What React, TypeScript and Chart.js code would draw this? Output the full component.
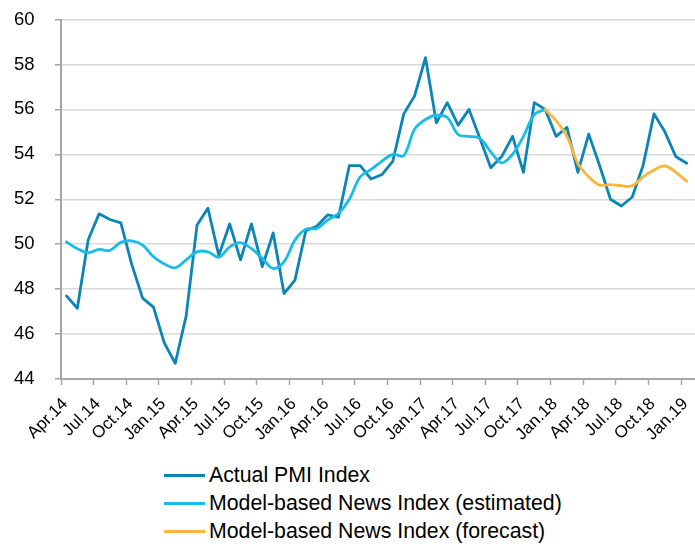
import React, { useEffect, useRef } from "react";
import { Chart, registerables } from "chart.js";

Chart.register(...registerables);

// Monthly categories (Apr.14 .. Jan.19)
const months: string[] = [
  "Apr.14", "May.14", "Jun.14", "Jul.14", "Aug.14", "Sep.14", "Oct.14", "Nov.14", "Dec.14",
  "Jan.15", "Feb.15", "Mar.15", "Apr.15", "May.15", "Jun.15", "Jul.15", "Aug.15", "Sep.15", "Oct.15", "Nov.15", "Dec.15",
  "Jan.16", "Feb.16", "Mar.16", "Apr.16", "May.16", "Jun.16", "Jul.16", "Aug.16", "Sep.16", "Oct.16", "Nov.16", "Dec.16",
  "Jan.17", "Feb.17", "Mar.17", "Apr.17", "May.17", "Jun.17", "Jul.17", "Aug.17", "Sep.17", "Oct.17", "Nov.17", "Dec.17",
  "Jan.18", "Feb.18", "Mar.18", "Apr.18", "May.18", "Jun.18", "Jul.18", "Aug.18", "Sep.18", "Oct.18", "Nov.18", "Dec.18",
  "Jan.19",
];

// Quarterly tick labels
const tickLabels: string[] = [
  "Apr.14", "Jul.14", "Oct.14",
  "Jan.15", "Apr.15", "Jul.15", "Oct.15",
  "Jan.16", "Apr.16", "Jul.16", "Oct.16",
  "Jan.17", "Apr.17", "Jul.17", "Oct.17",
  "Jan.18", "Apr.18", "Jul.18", "Oct.18",
  "Jan.19",
];

const actualPMI: (number | null)[] = [
  47.7, 47.15, 50.2, 51.35, 51.1, 50.95, 49.1, 47.6, 47.2, 45.6,
  44.7, 46.8, 50.85, 51.6, 49.5, 50.9, 49.3, 50.9, 49.0, 50.5,
  47.8, 48.4, 50.6, 50.8, 51.3, 51.2, 53.5, 53.5, 52.9, 53.1,
  53.7, 55.8, 56.6, 58.3, 55.4, 56.3, 55.3, 56.0, 54.7, 53.4,
  53.9, 54.8, 53.2, 56.3, 56.0, 54.8, 55.2, 53.2, 54.9, 53.5,
  52.0, 51.7, 52.1, 53.5, 55.8, 55.0, 53.9, 53.6,
];

const newsEstimated: (number | null)[] = [
  50.1, 49.8, 49.62, 49.77, 49.72, 50.08, 50.15, 49.96, 49.44, 49.12,
  48.95, 49.3, 49.66, 49.66, 49.42, 49.88, 50.07, 49.8, 49.37, 48.92,
  49.22, 50.18, 50.66, 50.7, 51.07, 51.37, 52.0, 53.0, 53.33, 53.7,
  54.0, 53.94, 55.12, 55.55, 55.74, 55.64, 54.88, 54.8, 54.71, 54.11,
  53.62, 54.0, 54.8, 55.77, 56.0, null, null, null, null, null,
  null, null, null, null, null, null, null, null,
];

const newsForecast: (number | null)[] = [
  null, null, null, null, null, null, null, null, null, null,
  null, null, null, null, null, null, null, null, null, null,
  null, null, null, null, null, null, null, null, null, null,
  null, null, null, null, null, null, null, null, null, null,
  null, null, null, null, 56.0, 55.5, 54.8, 53.6, 53.0, 52.63,
  52.65, 52.6, 52.6, 53.0, 53.3, 53.48, 53.2, 52.8,
];

const seriesNames: string[] = [
  "Actual PMI Index",
  "Model-based News Index (estimated)",
  "Model-based News Index (forecast)",
];
const seriesColors: string[] = ["#0a85b6", "#17bde6", "#fdb53d"];

const yMin = 44;
const yMax = 60;
const yStep = 2;

const FONT = "'Liberation Sans', Arial, Helvetica, sans-serif";

function toPoints(values: (number | null)[]) {
  const pts: { x: number; y: number }[] = [];
  values.forEach((v, i) => {
    if (v !== null && v !== undefined) pts.push({ x: i + 0.5, y: v });
  });
  return pts;
}

// Draws the rotated quarterly labels of the x scale at its own tick pixels
const xLabelPlugin = {
  id: "rotatedXLabels",
  afterDraw(chart: any) {
    const scale = chart.scales.x;
    const ctx = chart.ctx;
    ctx.save();
    ctx.font = `17px ${FONT}`;
    ctx.fillStyle = "#000";
    ctx.textAlign = "right";
    ctx.textBaseline = "alphabetic";
    scale.ticks.forEach((t: any) => {
      const label = tickLabels[Math.round(t.value / 3)];
      if (!label) return;
      const px = scale.getPixelForValue(t.value);
      ctx.save();
      ctx.translate(px + 7.5, scale.top + 25.6);
      ctx.rotate(-Math.PI / 4);
      ctx.fillText(label, 0, 0);
      ctx.restore();
    });
    ctx.restore();
  },
};

export default function App() {
  const canvasRef = useRef<HTMLCanvasElement | null>(null);

  useEffect(() => {
    if (!canvasRef.current) return;
    const allSeries = [actualPMI, newsEstimated, newsForecast];
    const chart = new Chart(canvasRef.current, {
      type: "line",
      data: {
        datasets: allSeries.map((vals, k) => ({
          label: seriesNames[k],
          data: toPoints(vals),
          borderColor: seriesColors[k],
          backgroundColor: seriesColors[k],
          borderWidth: 2.8,
          pointRadius: 0,
          pointHoverRadius: 0,
          tension: k === 0 ? 0 : 0.35,
          borderJoinStyle: "round" as const,
          borderCapStyle: "round" as const,
          fill: false,
          order: 3 - k,
        })),
      },
      plugins: [xLabelPlugin],
      options: {
        responsive: false,
        animation: false,
        events: [],
        layout: { padding: { top: 19.5, right: 11.6, bottom: 0, left: 14 } },
        plugins: {
          legend: { display: false },
          tooltip: { enabled: false },
        },
        scales: {
          x: {
            type: "linear",
            min: 0,
            max: 59.5,
            afterBuildTicks: (scale: any) => {
              scale.ticks = scale.ticks.filter(
                (t: any) => t.value % 3 === 0 && t.value <= 57
              );
            },
            afterFit: (scale: any) => {
              scale.height = 81;
            },
            grid: {
              drawOnChartArea: false,
              drawTicks: true,
              tickLength: 6,
              tickColor: "#a6a6a6",
              tickWidth: 1.5,
            },
            border: { display: true, color: "#a6a6a6", width: 2 },
            ticks: {
              display: false,
              stepSize: 3,
              autoSkip: false,
              includeBounds: false,
            },
          },
          y: {
            type: "linear",
            min: yMin,
            max: yMax,
            afterFit: (scale: any) => {
              scale.width = 47;
            },
            grid: {
              color: "#d9d9d9",
              lineWidth: 1.5,
              tickLength: 6,
              tickColor: "#a6a6a6",
              tickWidth: 1.5,
            },
            border: { display: true, color: "#a6a6a6", width: 2 },
            ticks: {
              stepSize: yStep,
              padding: 0,
              crossAlign: "far",
              color: "#000",
              font: { family: FONT, size: 18.5 },
            },
          },
        },
      },
    } as any);
    return () => chart.destroy();
  }, []);

  return (
    <div
      style={{
        position: "absolute",
        left: 0,
        top: 0,
        width: 695,
        height: 544,
        overflow: "hidden",
        background: "#fff",
      }}
    >
      <canvas
        ref={canvasRef}
        width={720}
        height={460}
        style={{ display: "block", width: 720, height: 460 }}
      />
      {seriesNames.map((name, k) => (
        <div
          key={name}
          style={{
            position: "absolute",
            left: 164,
            top: 475 + k * 28 - 13,
            height: 26,
            display: "flex",
            alignItems: "center",
            whiteSpace: "nowrap",
            fontFamily: FONT,
            fontSize: 21.3,
            color: "#000",
          }}
        >
          <span
            style={{
              display: "inline-block",
              width: 41,
              height: 3,
              background: seriesColors[k],
              marginRight: 4,
            }}
          />
          <span>{name}</span>
        </div>
      ))}
    </div>
  );
}
